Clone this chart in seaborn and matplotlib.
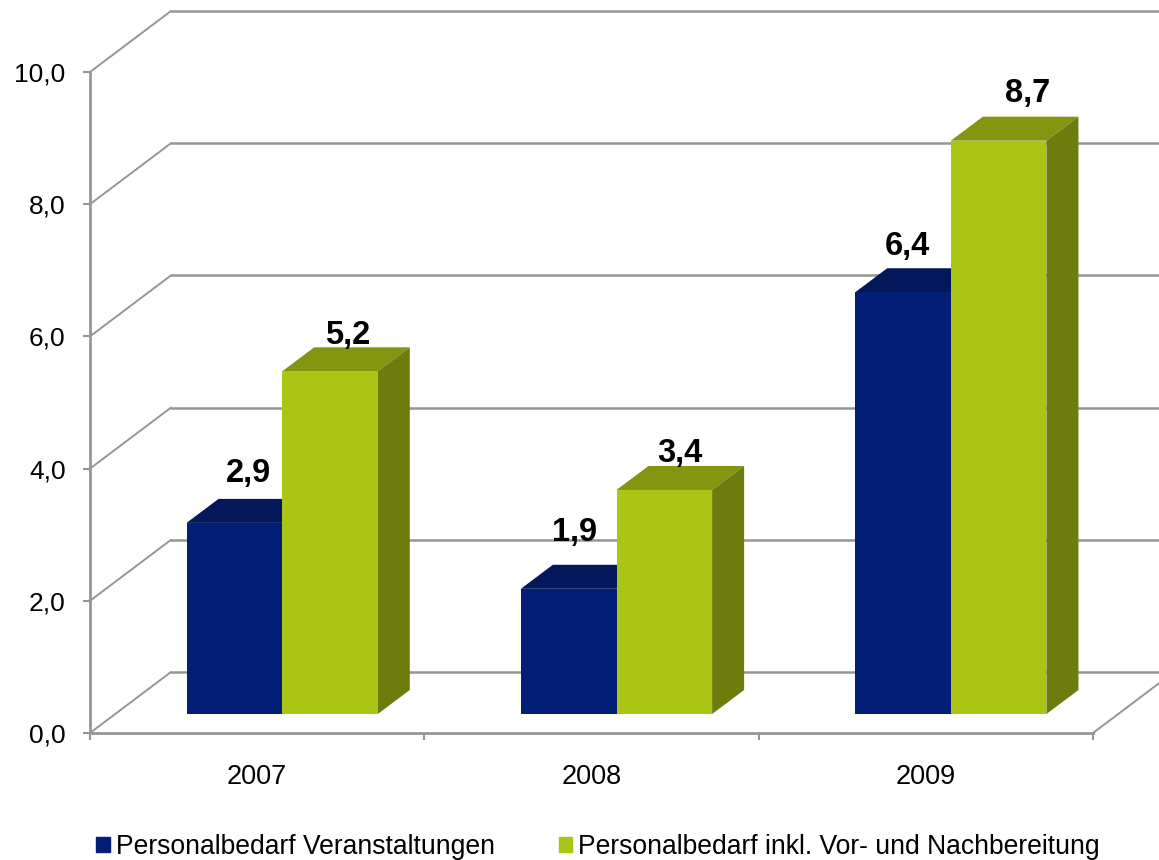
import matplotlib
matplotlib.use('Agg')
import matplotlib.pyplot as plt
import matplotlib.transforms as mtrans
from matplotlib.patches import Patch, Polygon
import pandas as pd
import seaborn as sns

years = ['2007', '2008', '2009']
serie_a = [2.9, 1.9, 6.4]
serie_b = [5.2, 3.4, 8.7]
nome_a = 'Personalbedarf Veranstaltungen'
nome_b = 'Personalbedarf inkl. Vor- und Nachbereitung'
y_ticks = [0, 2, 4, 6, 8, 10]

W, H = 1159, 860
GREY = '#969696'
BLUE, BLUE_TOP = '#031f75', '#03175a'
GREEN, GREEN_TOP, GREEN_SIDE = '#aac514', '#84950f', '#6d7c0d'

sns.set_theme(style='white')
plt.rcParams['font.family'] = ['Liberation Sans', 'DejaVu Sans']

df = pd.DataFrame({
    'Jahr': years * 2,
    'Wert': serie_a + serie_b,
    'Serie': [nome_a] * 3 + [nome_b] * 3,
})


def box(left, top, right, bottom):
    # pixel box (von oben links gemessen) -> figure fraction
    return [left / W, 1 - bottom / H, (right - left) / W, (bottom - top) / H]


fig = plt.figure(figsize=(W / 100, H / 100), dpi=100, facecolor='white')

# vordere ebene mit den achsen
ax = fig.add_axes(box(90, 72, 1093, 733))
ax.set_xlim(-0.5, 2.5)
ax.set_ylim(0, 10)
ax.set_facecolor('none')
for s in ['top', 'right']:
    ax.spines[s].set_visible(False)
for s in ['left', 'bottom']:
    ax.spines[s].set_color(GREY)
    ax.spines[s].set_linewidth(2)
ax.set_yticks(y_ticks)
ax.set_yticklabels([f'{v:.1f}'.replace('.', ',') for v in y_ticks], fontsize=19, color='black')
ax.set_xticks([-0.5, 0.5, 1.5, 2.5])
ax.set_xticklabels([])
ax.set_xticks(range(3), years, minor=True, fontsize=19.5, color='black')
ax.tick_params(axis='y', which='major', length=5, width=1.5, color=GREY, left=True, pad=12.5)
ax.tick_params(axis='x', which='major', length=5, width=1.5, color=GREY, bottom=True)
ax.tick_params(axis='x', which='minor', length=0, bottom=False, pad=22.5)

# rueckwand und boden
back = ax.transData + mtrans.Affine2D().translate(81, 61)
for v in y_ticks:
    ax.plot([-0.5, 2.5], [v, v], color=GREY, lw=1.8, clip_on=False, transform=back, zorder=1)
    x0, y0 = ax.transData.transform((-0.5, v))
    ax.plot([x0, x0 + 81], [y0, y0 + 61], color=GREY, lw=1.4, transform=None, clip_on=False, zorder=1)
x1, y1 = ax.transData.transform((2.5, 0))
ax.plot([x1, x1 + 81], [y1, y1 + 61], color=GREY, lw=1.4, transform=None, clip_on=False, zorder=1)

# balken, gegen die vordere ebene versetzt
ax_bar = fig.add_axes(box(115, 714 - 659, 1118, 714))
sns.barplot(data=df, x='Jahr', y='Wert', hue='Serie', order=years, hue_order=[nome_a, nome_b],
            palette=[BLUE, GREEN], width=0.572, gap=0, saturation=1, legend=False,
            linewidth=0, edgecolor='none', ax=ax_bar)
ax_bar.set_xlim(-0.5, 2.5)
ax_bar.set_ylim(0, 10)
ax_bar.set_facecolor('none')
ax_bar.axis('off')

DX, DY = 32, 24
label_off = [(14, 49), (6, 56), (4, 46), (18, 36), (16, 36), (29, 47)]
bars = list(ax_bar.patches)[:6]
for i, (bar, (ox, oy)) in enumerate(zip(bars, label_off)):
    px = ax_bar.transData.transform([(bar.get_x(), bar.get_height()),
                                     (bar.get_x() + bar.get_width(), bar.get_height()),
                                     (bar.get_x() + bar.get_width(), 0)])
    (xl, yt), (xr, _), (_, yb) = px
    is_green = i >= 3
    top = GREEN_TOP if is_green else BLUE_TOP
    z = 4 if is_green else 2
    # tiefe: oberseite und rechte seite
    ax_bar.add_patch(Polygon([(xl, yt), (xr, yt), (xr + DX, yt + DY), (xl + DX, yt + DY)],
                             closed=True, transform=None, fc=top, ec='none', zorder=z, clip_on=False))
    if is_green:
        ax_bar.add_patch(Polygon([(xr, yt), (xr + DX, yt + DY), (xr + DX, yb + DY), (xr, yb)],
                                 closed=True, transform=None, fc=GREEN_SIDE, ec='none', zorder=z, clip_on=False))
    bar.set_zorder(z + 1)
    bar.set_antialiased(False)
    ax_bar.annotate(f'{bar.get_height():.1f}'.replace('.', ','),
                    xy=(bar.get_x() + bar.get_width() / 2, bar.get_height()),
                    xytext=(ox, oy), textcoords='offset pixels', ha='center', va='center',
                    fontsize=23.5, fontweight='bold', color='black', annotation_clip=False, zorder=10)
    if not is_green:
        # blau ein stueck unter gruen schieben, sonst bleibt ein weisser spalt
        bar.set_width(bar.get_width() * 1.02)

handles = [Patch(color=BLUE, label=nome_a), Patch(color=GREEN, label=nome_b)]
fig.legend(handles=handles, loc='lower left', bbox_to_anchor=(96.5 / W, 0), ncol=2, frameon=False,
           fontsize=19.1, handlelength=0.5, handleheight=0.5, handletextpad=0.25, columnspacing=2.38,
           borderaxespad=0, borderpad=0, labelcolor='black')

fig.savefig('out.png', dpi=100)
